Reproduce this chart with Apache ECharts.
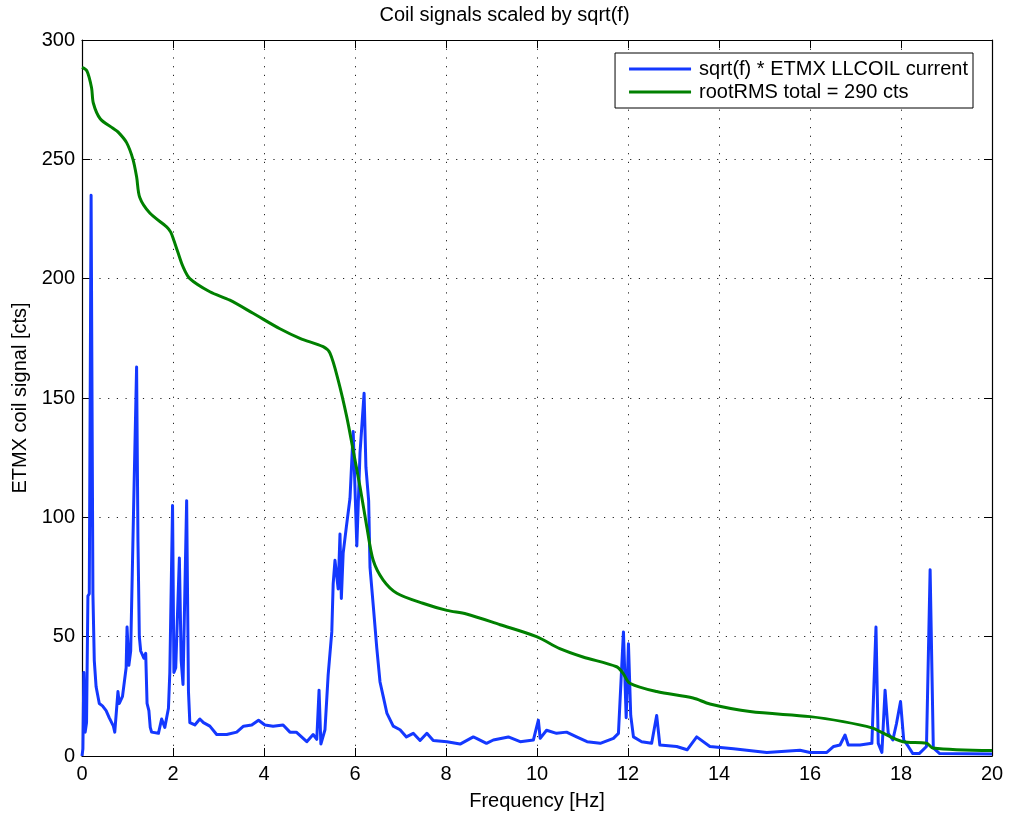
<!DOCTYPE html>
<html>
<head>
<meta charset="utf-8">
<script src="https://cdn.jsdelivr.net/npm/echarts@6/dist/echarts.min.js"></script>
<style>
html,body{margin:0;padding:0;background:#fff;}
#chart{width:1009px;height:813px;}
</style>
</head>
<body>
<div id="chart"></div>
<script>
// ---- data ----
const titleText = 'Coil signals scaled by sqrt(f)';
const xTicks = [0, 2, 4, 6, 8, 10, 12, 14, 16, 18, 20];
const yTicks = [0, 50, 100, 150, 200, 250, 300];
const seriesNames = ['sqrt(f) * ETMX LLCOIL current', 'rootRMS total = 290 cts'];

// blue: sqrt(f) * coil current
const blueFreq = [0,0.02,0.04,0.07,0.1,0.13,0.16,0.2,0.24,0.27,0.31,0.38,0.45,0.53,0.6,0.69,0.72,0.79,0.82,0.89,0.97,0.99,1.03,1.07,1.13,1.2,1.23,1.26,1.29,1.36,1.4,1.43,1.47,1.5,1.53,1.68,1.75,1.82,1.9,1.93,1.99,2.02,2.06,2.14,2.18,2.22,2.3,2.34,2.37,2.48,2.59,2.67,2.81,2.96,3.18,3.4,3.55,3.73,3.88,4.02,4.2,4.42,4.57,4.71,4.94,5.08,5.16,5.21,5.25,5.34,5.41,5.49,5.52,5.56,5.63,5.67,5.7,5.74,5.81,5.89,5.96,6.04,6.11,6.2,6.24,6.3,6.33,6.41,6.48,6.55,6.62,6.7,6.84,6.99,7.13,7.28,7.43,7.58,7.72,8.02,8.31,8.6,8.67,8.89,9.04,9.37,9.63,9.92,10.03,10.07,10.21,10.43,10.65,10.87,11.1,11.39,11.68,11.79,11.9,11.96,12.01,12.06,12.12,12.3,12.52,12.63,12.7,13.07,13.3,13.51,13.8,14.32,15.05,15.78,16,16.37,16.52,16.66,16.77,16.84,17.1,17.36,17.45,17.5,17.58,17.65,17.72,17.82,17.9,17.99,18.06,18.16,18.26,18.4,18.56,18.64,18.71,18.85,20];
const blueVal = [0,3,35,10,14,67,68,235,68,40,29,22,21,19,16,12.5,10,27,22,25,37,54,38,44,100,163,90,50,44,41,43,22,19,12,10,9.5,15.5,12,20,35,105,35,37,83,40,30,107,27,14,13,15.5,14,12.5,9,9,10,12.5,13,15,13,12.5,13,10,10,6,9,7,27.6,5,11,34,52,72,82,70,93,66,85,96,108,136,88,127,152,121,107,79,61,45,31,25,18,12.5,11,8,9.5,6.5,9.5,6.5,6,5,8,7.4,5.3,6.7,8,6,6.7,15,7.4,10.8,9.5,10,8,6,5.3,7.4,9.5,52,16,47,17,8,6,5.3,17,4.6,4,2.6,8,4,3,1.5,2.4,1.5,1.5,4,4.6,8.8,4.6,4.6,5.3,54,5.3,1.5,27.6,9.5,6.7,13.5,22.8,6.7,4,1,1,4,78,3.4,1,0.8];

// green: cumulative rootRMS
const greenFreq = [0,0.11,0.21,0.25,0.4,0.68,0.79,0.98,1.12,1.2,1.27,1.49,1.86,1.95,2.02,2.1,2.22,2.37,2.81,3.25,3.76,4.35,4.79,5.3,5.45,5.63,5.82,5.96,6.11,6.26,6.4,6.62,6.92,7.49,8.02,8.45,9.19,9.99,10.5,11.01,11.75,11.89,12.04,12.63,13.43,13.8,14.68,16,16.73,17.38,17.54,18.04,18.56,18.7,20];
const greenVal = [288.5,287,280,273.5,267,263,261.5,257,250,242.7,234,227.5,221.7,219.5,216,211.5,205,200,194.5,191,185.5,179,175,171.5,168.8,157.5,142,128,112.8,96,82,73.7,68.2,64,61,59.5,55,50,45,41.5,37.4,34.7,30.5,27,24.3,21.8,18.6,16.5,14.4,11.7,10.2,6,5.4,3.4,2.3];

const FONT = '"Liberation Sans", Arial, Helvetica, sans-serif';
const blueData = blueFreq.map((f, i) => [f, blueVal[i]]);
const greenData = greenFreq.map((f, i) => [f, greenVal[i]]);

const chart = echarts.init(document.getElementById('chart'), null, {renderer: 'canvas'});

const gridDots = {show: true, lineStyle: {color: '#222', width: 1, type: [1.2, 7.5]}};
const axisLine = {show: true, onZero: false, lineStyle: {color: '#000', width: 1.2}};
const tick = {show: true, inside: true, length: 8, lineStyle: {color: '#000', width: 1}};

chart.setOption({
  animation: false,
  backgroundColor: '#fff',
  title: {
    text: titleText, left: 'center', top: 0,
    textStyle: {fontFamily: FONT, fontSize: 20, fontWeight: 'normal', color: '#000'}
  },
  legend: {
    orient: 'vertical', right: 36, top: 53,
    backgroundColor: '#fff', borderColor: '#000', borderWidth: 1,
    padding: [6, 5, 6, 14], itemGap: 3,
    itemWidth: 62, itemHeight: 3, icon: 'rect',
    textStyle: {fontFamily: FONT, fontSize: 20, color: '#000', padding: [0, 0, 0, 3]},
    data: seriesNames
  },
  grid: {left: 82, right: 17, top: 40, bottom: 57, containLabel: false, outerBoundsMode: 'none'},
  xAxis: [{
    type: 'value', min: xTicks[0], max: xTicks[xTicks.length - 1], interval: 2,
    position: 'bottom',
    name: 'Frequency [Hz]', nameLocation: 'middle', nameGap: 35,
    nameTextStyle: {fontFamily: FONT, fontSize: 20, color: '#000'},
    axisLine: axisLine, axisTick: tick,
    axisLabel: {fontFamily: FONT, fontSize: 20, color: '#000', margin: 8},
    splitLine: gridDots
  }, {
    type: 'value', min: xTicks[0], max: xTicks[xTicks.length - 1], interval: 2,
    position: 'top', axisLine: axisLine, axisTick: tick,
    axisLabel: {show: false}, splitLine: {show: false}
  }],
  yAxis: [{
    type: 'value', min: yTicks[0], max: yTicks[yTicks.length - 1], interval: 50,
    position: 'left',
    name: 'ETMX coil signal [cts]', nameLocation: 'middle', nameGap: 52,
    nameTextStyle: {fontFamily: FONT, fontSize: 20, color: '#000'},
    axisLine: axisLine, axisTick: tick,
    axisLabel: {fontFamily: FONT, fontSize: 20, color: '#000', margin: 7},
    splitLine: gridDots
  }, {
    type: 'value', min: yTicks[0], max: yTicks[yTicks.length - 1], interval: 50,
    position: 'right', axisLine: axisLine, axisTick: tick,
    axisLabel: {show: false}, splitLine: {show: false}
  }],
  series: [{
    name: seriesNames[0], type: 'line', data: blueData,
    xAxisIndex: 0, yAxisIndex: 0,
    showSymbol: false, symbol: 'none',
    lineStyle: {color: '#1438ff', width: 3, join: 'round'},
    itemStyle: {color: '#1438ff'},
    z: 2
  }, {
    name: seriesNames[1], type: 'line', data: greenData,
    xAxisIndex: 0, yAxisIndex: 0,
    showSymbol: false, symbol: 'none', smooth: 0.3,
    lineStyle: {color: '#008000', width: 3},
    itemStyle: {color: '#008000'},
    z: 3
  }]
});
</script>
</body>
</html>
